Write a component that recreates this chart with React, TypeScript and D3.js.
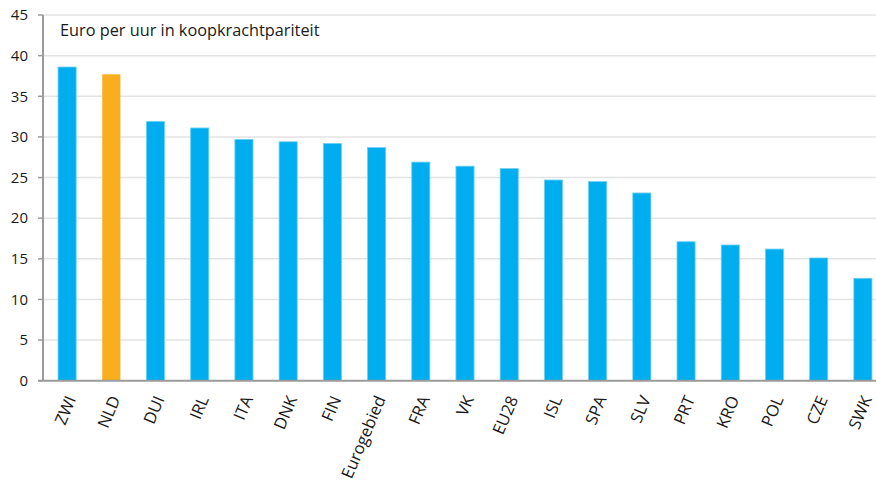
import React from "react";
import * as d3 from "d3";

const categories = ["ZWI","NLD","DUI","IRL","ITA","DNK","FIN","Eurogebied","FRA","VK","EU28","ISL","SPA","SLV","PRT","KRO","POL","CZE","SWK"];
const values = [38.6,37.7,31.9,31.1,29.7,29.4,29.2,28.7,26.9,26.4,26.1,24.7,24.5,23.1,17.1,16.7,16.2,15.1,12.6];
const highlight = ["NLD"];
const yTicks = [0,5,10,15,20,25,30,35,40,45];
const title = "Euro per uur in koopkrachtpariteit";

const W = 876, H = 483;
const FONT = "'Open Sans', 'Noto Sans', sans-serif";

export default function App() {
  const x = d3.scaleBand<string>().domain(categories).range([45, 885]).paddingInner(0.59).paddingOuter(0.295);
  const y = d3.scaleLinear().domain([0, 45]).range([380.7, 15]);
  const axisX = 43;
  return (
    <svg width={W} height={H} style={{ position: "absolute", left: 0, top: 0, background: "#fff" }} fontFamily={FONT}>
      {yTicks.map((t) => (
        <g key={t}>
          {t > 0 && <line x1={axisX} x2={W} y1={y(t)} y2={y(t)} stroke="#e3e3e3" strokeWidth={1.5} />}
          <line x1={38} x2={axisX} y1={y(t)} y2={y(t)} stroke="#9b9b9b" strokeWidth={1.5} />
          <text x={28} y={y(t)} dy="0.35em" textAnchor="end" fontSize={15} fill="#1a1a1a">{t}</text>
        </g>
      ))}
      {categories.map((c, i) => (
        <rect key={c} x={x(c)} y={y(values[i])} width={x.bandwidth()} height={y(0) - y(values[i])}
          fill={highlight.includes(c) ? "#f9ae1d" : "#00aeef"}
          stroke={highlight.includes(c) ? "none" : "#6fd0f5"} strokeWidth={0.8} />
      ))}
      <line x1={axisX} x2={axisX} y1={y(45)} y2={y(0)} stroke="#9b9b9b" strokeWidth={2} />
      <line x1={38} x2={W} y1={y(0)} y2={y(0)} stroke="#9b9b9b" strokeWidth={2} />
      {categories.map((c) => {
        const cx = (x(c) as number) + x.bandwidth() / 2 + 4;
        return (
          <text key={c} transform={`translate(${cx},${y(0) + 16}) rotate(-67)`} textAnchor="end" dy="0.35em"
            fontSize={16.5} fill="#1a1a1a">{c}</text>
        );
      })}
      <text x={60} y={36} fontSize={16.3} fill="#1a1a1a">{title}</text>
    </svg>
  );
}
